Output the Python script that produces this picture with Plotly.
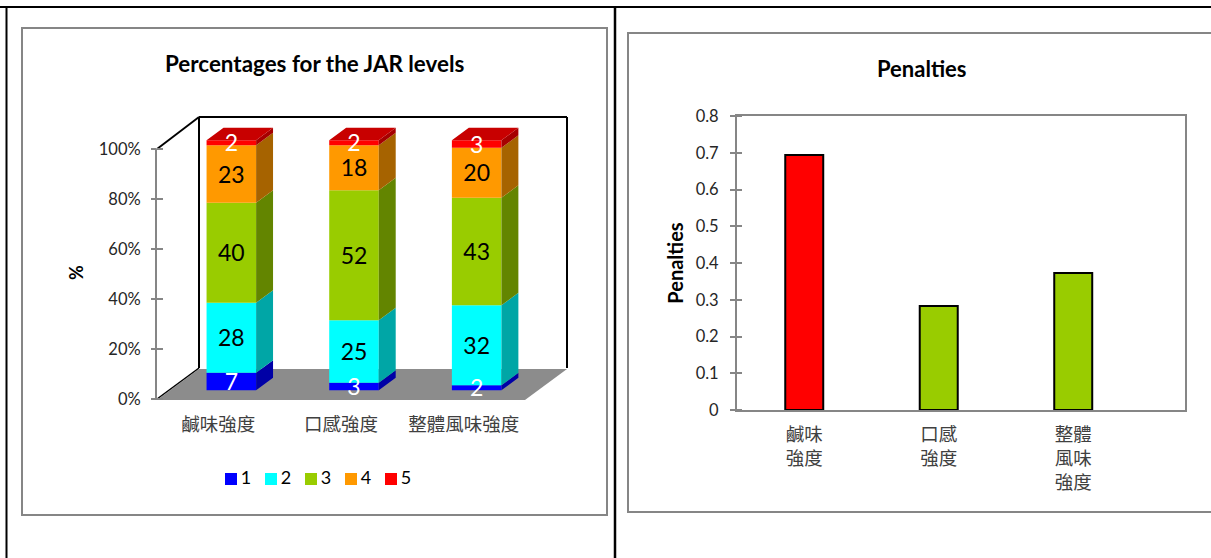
import plotly.graph_objects as go

categories = ["鹹味強度", "口感強度", "整體風味強度"]
levels = ["1", "2", "3", "4", "5"]
level_1 = [7, 3, 2]
level_2 = [28, 25, 32]
level_3 = [40, 52, 43]
level_4 = [23, 18, 20]
level_5 = [2, 2, 3]
level_values = [level_1, level_2, level_3, level_4, level_5]
percent_ticks = [0, 20, 40, 60, 80, 100]
penalties = [0.694, 0.283, 0.373]
penalty_labels = ["鹹味<br>強度", "口感<br>強度", "整體<br>風味<br>強度"]
penalty_ticks = [0, 0.1, 0.2, 0.3, 0.4, 0.5, 0.6, 0.7, 0.8]
front_colors = ["#0000FF", "#00FFFF", "#99CC00", "#FF9900", "#FF0000"]
side_colors = ["#0000A6", "#00A6A6", "#638500", "#A66300", "#A60000"]
label_colors = ["white", "black", "black", "black", "white"]
penalty_colors = ["#FF0000", "#99CC00", "#99CC00"]

W, H = 1211, 558
GREY = "#868686"
LATIN = "Lato, 'Noto Sans CJK TC', sans-serif"
CJK = "'Noto Sans CJK TC', sans-serif"


def fx(px):
    return px / W


def fy(py):
    return 1 - py / H


# left chart depth settings
BAR_WIDTH = 0.404
BAR_SHIFT = 0.106
BASE = 3.5
SIDE_DX = 0.138
SIDE_DY = 5.0
LABEL_NUDGE = -1.1
Y_TOP = 112  # room above 100% for the bar tops

fig = go.Figure()
n_cat = len(categories)
idx = list(range(n_cat))
cum = [0.0] * n_cat
for name, vals, fc, sc in zip(levels, level_values, front_colors, side_colors):
    bases = [BASE + c for c in cum]
    fig.add_trace(go.Bar(
        x=idx, y=vals, base=bases, name=name, width=BAR_WIDTH,
        offset=BAR_SHIFT - BAR_WIDTH / 2, marker=dict(color=fc, line=dict(width=0)),
        showlegend=False, xaxis="x", yaxis="y", hoverinfo="y+name"))
    xs, ys = [], []
    for i in idx:
        r = i + BAR_SHIFT + BAR_WIDTH / 2
        b, t = bases[i], bases[i] + vals[i]
        xs += [r, r + SIDE_DX, r + SIDE_DX, r, r, None]
        ys += [b, b + SIDE_DY, t + SIDE_DY, t, b, None]
    fig.add_trace(go.Scatter(
        x=xs, y=ys, mode="lines", fill="toself", fillcolor=sc, line=dict(width=0),
        showlegend=False, hoverinfo="skip", xaxis="x", yaxis="y"))
    cum = [c + v for c, v in zip(cum, vals)]

# top faces
xs, ys = [], []
for i in idx:
    l = i + BAR_SHIFT - BAR_WIDTH / 2
    r = i + BAR_SHIFT + BAR_WIDTH / 2
    t = BASE + cum[i]
    xs += [l, r, r + SIDE_DX, l + SIDE_DX, l, None]
    ys += [t, t, t + SIDE_DY, t + SIDE_DY, t, None]
fig.add_trace(go.Scatter(
    x=xs, y=ys, mode="lines", fill="toself", fillcolor="#C80000", line=dict(width=0),
    showlegend=False, hoverinfo="skip", xaxis="x", yaxis="y"))

# value labels
cum = [0.0] * n_cat
for vals, col in zip(level_values, label_colors):
    fig.add_trace(go.Scatter(
        x=[i + BAR_SHIFT for i in idx],
        y=[BASE + c + v / 2 + LABEL_NUDGE for c, v in zip(cum, vals)],
        text=[str(v) for v in vals], mode="text", textposition="middle center",
        textfont=dict(family=LATIN, size=23, color=col),
        showlegend=False, hoverinfo="skip", xaxis="x", yaxis="y"))
    cum = [c + v for c, v in zip(cum, vals)]

# legend row (square key followed closely by its level)
for i, (name, fc) in enumerate(zip(levels, front_colors)):
    fig.add_trace(go.Scatter(
        x=[i], y=[0], text=["\u200a" + name], mode="markers+text", textposition="middle right",
        marker=dict(symbol="square", size=12, color=fc, line=dict(width=0)),
        textfont=dict(family=LATIN, size=18, color="black"),
        cliponaxis=False, showlegend=False, hoverinfo="skip", xaxis="x3", yaxis="y3"))

# right chart
fig.add_trace(go.Bar(
    x=idx, y=penalties, width=0.2825, showlegend=False, name="Penalties",
    marker=dict(color=penalty_colors, line=dict(color="black", width=2)),
    xaxis="x2", yaxis="y2"))


# static frame and 3D walls
def line(x0, y0, x1, y1, color, width, layer="below"):
    return dict(type="line", xref="paper", yref="paper", x0=fx(x0), x1=fx(x1), y0=fy(y0), y1=fy(y1),
                line=dict(color=color, width=width), layer=layer)


def rect(x0, y0, x1, y1):
    return dict(type="rect", xref="paper", yref="paper", x0=fx(x0), x1=fx(x1), y0=fy(y0), y1=fy(y1),
                line=dict(color=GREY, width=2), fillcolor="white", layer="below")


floor_path = f"M{fx(157)},{fy(400)} L{fx(525)},{fy(400)} L{fx(567)},{fy(369)} L{fx(199)},{fy(369)} Z"
shapes = [
    rect(22, 28, 607, 515),
    rect(628, 33, 1230, 512),
    line(0, 7, W, 7, "black", 2),
    line(6.5, 7, 6.5, H, "black", 2),
    line(615, 7, 615, H, "black", 2.5),
    dict(type="path", xref="paper", yref="paper", path=floor_path, fillcolor="#8C8C8C",
         line=dict(width=0), layer="below"),
    line(157, 149, 199, 117, "black", 2),
    line(199, 117, 567, 117, "black", 2),
    line(199, 117, 199, 368, "black", 2),
    line(567, 117, 567, 368, "black", 2),
    line(157, 399, 199, 368, "black", 1.5),
    line(156, 149, 156, 400, GREY, 2),
]

annotations = [
    dict(text="<b>Percentages for the JAR levels</b>", xref="paper", yref="paper", x=fx(314), y=fy(63),
         xanchor="center", yanchor="middle", showarrow=False,
         font=dict(family=LATIN, size=22.4, color="black")),
    dict(text="<b>Penalties</b>", xref="paper", yref="paper", x=fx(921), y=fy(68),
         xanchor="center", yanchor="middle", showarrow=False,
         font=dict(family=LATIN, size=22, color="black")),
    dict(text="<b>%</b>", xref="paper", yref="paper", x=fx(76), y=fy(273), textangle=-90,
         xanchor="center", yanchor="middle", showarrow=False,
         font=dict(family=LATIN, size=18, color="black")),
]

tick_font = dict(family=LATIN, size=16.5, color="#262626")
fig.update_layout(
    width=W, height=H, autosize=False, margin=dict(l=0, r=0, t=0, b=0, autoexpand=False),
    paper_bgcolor="white", plot_bgcolor="rgba(0,0,0,0)", barmode="overlay", showlegend=False,
    shapes=shapes, annotations=annotations,
    xaxis=dict(domain=[fx(157), fx(525)], range=[-0.5, 2.5], tickmode="array", tickvals=idx,
               ticktext=categories, showgrid=False, zeroline=False, showline=False, ticks="",
               tickfont=dict(family=CJK, size=18.5, color="#404040"), ticklabelstandoff=12),
    yaxis=dict(domain=[fy(399), fy(399 - 2.5 * Y_TOP)], range=[0, Y_TOP], tickmode="array", tickvals=percent_ticks,
               ticktext=[f"{v}%" for v in percent_ticks], showgrid=False, zeroline=False,
               showline=False, ticks="outside", ticklen=5, tickwidth=2,
               tickcolor=GREY, tickfont=tick_font, ticklabelstandoff=7,
               minor=dict(ticks="inside", tickmode="array", tickvals=percent_ticks, ticklen=6,
                          tickwidth=2, tickcolor=GREY)),
    xaxis2=dict(domain=[fx(737), fx(1185)], range=[-0.5, 2.831], tickmode="array", tickvals=idx,
                ticktext=penalty_labels, showgrid=False, zeroline=False, showline=True, mirror=True,
                linecolor=GREY, linewidth=2, ticks="", anchor="y2",
                tickfont=dict(family=CJK, size=18.5, color="#404040"), ticklabelstandoff=7),
    yaxis2=dict(domain=[fy(410), fy(116)], range=[0, 0.8], tickmode="array", tickvals=penalty_ticks,
                ticktext=[f"{v:g}" for v in penalty_ticks], showgrid=False, zeroline=False, showline=True,
                mirror=True, linecolor=GREY, linewidth=2, ticks="outside", ticklen=5, tickwidth=2,
                tickcolor=GREY, tickfont=tick_font, ticklabelstandoff=8, anchor="x2",
                minor=dict(ticks="inside", tickmode="array", tickvals=penalty_ticks, ticklen=5,
                           tickwidth=2, tickcolor=GREY),
                title=dict(text="<b>Penalties</b>", font=dict(family=LATIN, size=20, color="black"), standoff=7)),
    xaxis3=dict(domain=[fx(231), fx(391)], range=[0, 4], visible=False, anchor="y3"),
    yaxis3=dict(domain=[fy(489), fy(469)], range=[-1, 1], visible=False, anchor="x3"),
)

fig.write_html("out.html", config=dict(displayModeBar=False),
               post_script="document.body.style.margin='0';document.body.style.overflow='hidden';")
